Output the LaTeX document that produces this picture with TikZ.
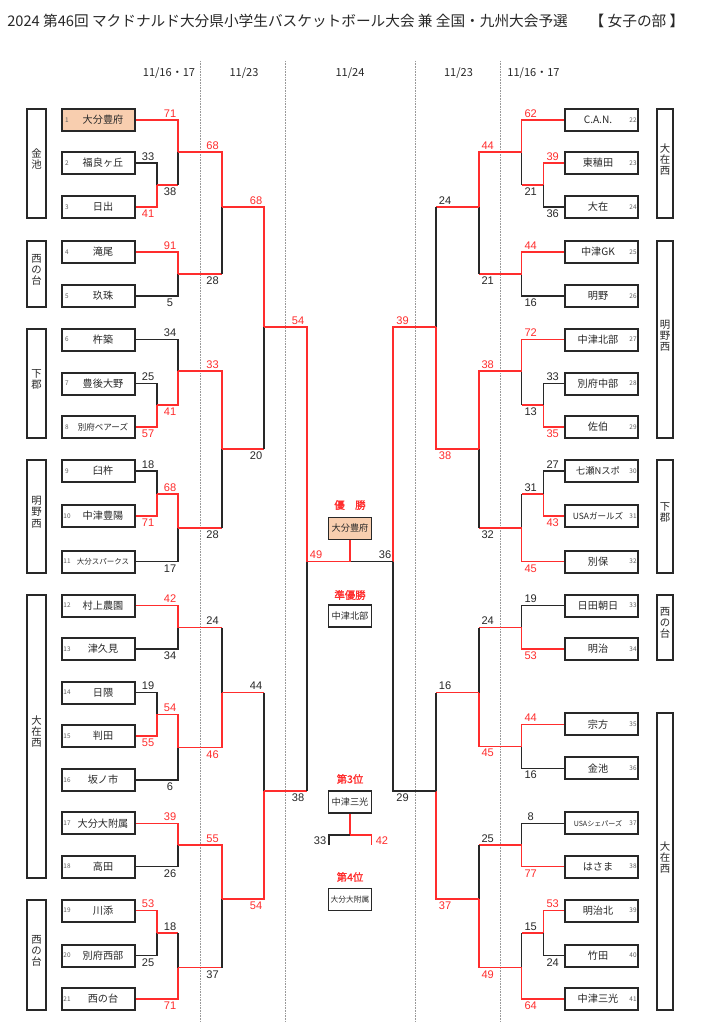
\documentclass[tikz,border=0pt]{standalone}
\usepackage{fontspec}
\setmainfont{Liberation Sans}
\newfontfamily\jp{Noto Sans CJK JP}
\newfontfamily\jpb[FakeBold=1.5]{Noto Sans CJK JP}
\usetikzlibrary{fit,calc}
\definecolor{myred}{RGB}{255,45,45}
\definecolor{ink}{RGB}{40,40,40}
\definecolor{champ}{RGB}{248,206,175}
\newcommand\lteam[5][]{\node[teambox,#1] (t#2) at (98.5,#3) {};\node[tnum] (n#2) at (67,#3) {#2};\node[tname,#4] (m#2) at (103,#3) {#5};}
\newcommand\rteam[5][]{\node[teambox,#1] (t#2) at (601.65,#3) {};\node[tnum] (n#2) at (633,#3) {#2};\node[tname,#4] (m#2) at (598,#3) {#5};}
\newcommand\su[5]{\node[#2,anchor=south] (#1) at (#3,#4-2.5) {#5};}
\newcommand\sd[5]{\node[#2,anchor=north] (#1) at (#3,#4+2.5) {#5};}
\newcommand\jl[2]{\draw[winline] (#1) -- (#1 -| #2); \draw[loseline] (#1 -| #2) -- (#2);}
\begin{document}
\begin{tikzpicture}[x=0.75pt,y=-0.75pt,
 teambox/.style={draw=ink,line width=1.5pt,minimum width=55pt,minimum height=16.5pt,inner sep=0pt},
 tnum/.style={font=\jp\fontsize{4.8}{5}\selectfont,text=ink!75,inner sep=0pt},
 tname/.style={font=\jp\fontsize{7.6}{9}\selectfont,text=ink,inner sep=0pt},
 grp/.style={draw=ink,line width=1.5pt,inner sep=0pt,align=center,font=\jp\fontsize{7.8}{8.3}\selectfont,text=ink},
 winline/.style={draw=myred,line width=1.15pt},
 loseline/.style={draw=ink,line width=1.15pt},
 score/.style={font=\fontsize{8.3}{9}\selectfont,inner sep=0pt},
 rsc/.style={score,text=myred},
 ksc/.style={score,text=ink},
 dotline/.style={draw=gray!80,line width=0.6pt,dash pattern=on 0.6pt off 0.6pt},
 datel/.style={font=\jp\fontsize{8.3}{9}\selectfont,text=ink,inner sep=0pt},
 redlab/.style={font=\jpb\fontsize{7.8}{9}\selectfont,text=myred,inner sep=0pt},
 cbox/.style={draw=ink,line width=1.2pt,minimum width=32.5pt,minimum height=16.5pt,inner sep=0pt,font=\jp\fontsize{6.9}{8}\selectfont,text=ink}
]
\useasboundingbox (0,0) rectangle (702,1024);
\fill[white] (0,0) rectangle (702,1024);

% title
\node[anchor=west,font=\jp\fontsize{11}{12}\selectfont,text=ink,inner sep=0pt] (title) at (7,21) {2024 第46回 マクドナルド大分県小学生バスケットボール大会 兼 全国・九州大会予選};
\node[font=\jp\fontsize{11}{12}\selectfont,text=ink,inner sep=0pt] (part) at (637,21) {【 女子の部 】};

% dates
\node[datel] (d1) at (169,73) {11/16・17};
\node[datel] (d2) at (244,73) {11/23};
\node[datel] (d3) at (350,73) {11/24};
\node[datel] (d4) at (458.5,73) {11/23};
\node[datel] (d5) at (533.5,73) {11/16・17};

% dotted columns
\draw[dotline] (200.7,61) -- (200.7,1022);
\draw[dotline] (285.7,61) -- (285.7,1022);
\draw[dotline] (415,61) -- (415,1022);
\draw[dotline] (500.7,61) -- (500.7,1022);

% left teams
\lteam[fill=champ]{1}{120}{}{大分豊府}
\lteam{2}{163}{}{福良ヶ丘}
\lteam{3}{207}{}{日出}
\lteam{4}{252}{}{滝尾}
\lteam{5}{296}{}{玖珠}
\lteam{6}{339.5}{}{杵築}
\lteam{7}{383.5}{}{豊後大野}
\lteam{8}{427}{font=\jp\fontsize{6.4}{7}\selectfont}{別府ベアーズ}
\lteam{9}{471}{}{臼杵}
\lteam{10}{516}{}{中津豊陽}
\lteam{11}{561.7}{font=\jp\fontsize{5.6}{7}\selectfont}{大分スパークス}
\lteam{12}{605.5}{}{村上農園}
\lteam{13}{649}{}{津久見}
\lteam{14}{692.7}{}{日隈}
\lteam{15}{736}{}{判田}
\lteam{16}{780}{}{坂ノ市}
\lteam{17}{823.3}{}{大分大附属}
\lteam{18}{866.7}{}{高田}
\lteam{19}{910.7}{}{川添}
\lteam{20}{955.7}{}{別府西部}
\lteam{21}{999}{}{西の台}

% right teams
\rteam{22}{120}{}{C.A.N.}
\rteam{23}{163}{}{東稙田}
\rteam{24}{207}{}{大在}
\rteam{25}{252}{}{中津GK}
\rteam{26}{296}{}{明野}
\rteam{27}{339.5}{}{中津北部}
\rteam{28}{383.5}{}{別府中部}
\rteam{29}{427}{}{佐伯}
\rteam{30}{471}{font=\jp\fontsize{7}{8}\selectfont}{七瀬Nスポ}
\rteam{31}{516}{font=\jp\fontsize{6.4}{7}\selectfont}{USAガールズ}
\rteam{32}{561.7}{}{別保}
\rteam{33}{605.5}{}{日田朝日}
\rteam{34}{649}{}{明治}
\rteam{35}{724.3}{}{宗方}
\rteam{36}{768.3}{}{金池}
\rteam{37}{823.3}{font=\jp\fontsize{5.3}{7}\selectfont}{USAシェパーズ}
\rteam{38}{866.7}{}{はさま}
\rteam{39}{910.7}{}{明治北}
\rteam{40}{955.7}{}{竹田}
\rteam{41}{999}{}{中津三光}

% group boxes left
\node[grp,fit={(27.3,109) (45.7,218)}] (gl1) {金\\池};
\node[grp,fit={(27.3,241) (45.7,307)}] (gl2) {西\\の\\台};
\node[grp,fit={(27.3,328.5) (45.7,438)}] (gl3) {下\\郡};
\node[grp,fit={(27.3,460) (45.7,572.7)}] (gl4) {明\\野\\西};
\node[grp,fit={(27.3,594.5) (45.7,877.7)}] (gl5) {大\\在\\西};
\node[grp,fit={(27.3,899.7) (45.7,1010)}] (gl6) {西\\の\\台};
% group boxes right
\node[grp,fit={(656.7,109) (673.3,218)}] (gr1) {大\\在\\西};
\node[grp,fit={(656.7,241) (673.3,438)}] (gr2) {明\\野\\西};
\node[grp,fit={(656.7,460) (673.3,572.7)}] (gr3) {下\\郡};
\node[grp,fit={(656.7,594.5) (673.3,660)}] (gr4) {西\\の\\台};
\node[grp,fit={(656.7,713.3) (673.3,1010)}] (gr5) {大\\在\\西};

% junctions left
\coordinate (lA) at (157,185);
\coordinate (lB) at (178,152);
\coordinate (lC) at (178,274);
\coordinate (lD) at (222,207);
\coordinate (lE) at (157,405);
\coordinate (lF) at (178,371);
\coordinate (lH) at (157,494);
\coordinate (lI) at (178,528);
\coordinate (lG) at (222,449);
\coordinate (lJ) at (264,327);
\coordinate (lK) at (178,627.5);
\coordinate (lL) at (157,714.3);
\coordinate (lM) at (178,747.5);
\coordinate (lN) at (222,692.7);
\coordinate (lO) at (178,845);
\coordinate (lP) at (157,933.2);
\coordinate (lQ) at (178,967.7);
\coordinate (lR) at (222,899);
\coordinate (lS) at (264,791);
\coordinate (lT) at (307,561.7);
\coordinate (fin) at (350,561.7);
% junctions right
\coordinate (ra) at (543.3,185);
\coordinate (rb) at (521.7,152);
\coordinate (rc) at (521.7,274);
\coordinate (rd) at (479,207);
\coordinate (re) at (543.3,405);
\coordinate (rf) at (521.7,371);
\coordinate (rg) at (543.3,494);
\coordinate (rh) at (521.7,528);
\coordinate (ri) at (479,449);
\coordinate (rj) at (436,327);
\coordinate (rk) at (521.7,627.5);
\coordinate (rl) at (521.7,746.3);
\coordinate (rm) at (479,692.7);
\coordinate (rn) at (521.7,845);
\coordinate (ro) at (543.3,933.2);
\coordinate (rp) at (521.7,967.7);
\coordinate (rq) at (479,899);
\coordinate (rr) at (436,791);
\coordinate (rs) at (393,561.7);

% left bracket
\draw[loseline] (t2.east) -| (lA); \draw[winline] (t3.east) -| (lA);
\draw[winline] (t1.east) -| (lB); \jl{lA}{lB}
\draw[winline] (t4.east) -| (lC); \draw[loseline] (t5.east) -| (lC);
\draw[winline] (lB) -| (lD); \jl{lC}{lD}
\draw[loseline] (t7.east) -| (lE); \draw[winline] (t8.east) -| (lE);
\draw[loseline] (t6.east) -| (lF); \draw[winline] (lE) -| (lF);
\draw[loseline] (t9.east) -| (lH); \draw[winline] (t10.east) -| (lH);
\draw[winline] (lH) -| (lI); \draw[loseline] (t11.east) -| (lI);
\draw[winline] (lF) -| (lG); \jl{lI}{lG}
\draw[winline] (lD) -| (lJ); \jl{lG}{lJ}
\draw[winline] (t12.east) -| (lK); \draw[loseline] (t13.east) -| (lK);
\draw[loseline] (t14.east) -| (lL); \draw[winline] (t15.east) -| (lL);
\draw[winline] (lL) -| (lM); \draw[loseline] (t16.east) -| (lM);
\jl{lK}{lN} \draw[winline] (lM) -| (lN);
\draw[winline] (t17.east) -| (lO); \draw[loseline] (t18.east) -| (lO);
\draw[winline] (t19.east) -| (lP); \draw[loseline] (t20.east) -| (lP);
\jl{lP}{lQ} \draw[winline] (t21.east) -| (lQ);
\draw[winline] (lO) -| (lR); \jl{lQ}{lR}
\jl{lN}{lS} \draw[winline] (lR) -| (lS);
\draw[winline] (lJ) -| (lT); \jl{lS}{lT}
\draw[winline] (lT) -- (fin);

% right bracket
\draw[winline] (t23.west) -| (ra); \draw[loseline] (t24.west) -| (ra);
\draw[winline] (t22.west) -| (rb); \jl{ra}{rb}
\draw[winline] (t25.west) -| (rc); \draw[loseline] (t26.west) -| (rc);
\draw[winline] (rb) -| (rd); \jl{rc}{rd}
\draw[loseline] (t28.west) -| (re); \draw[winline] (t29.west) -| (re);
\draw[winline] (t27.west) -| (rf); \jl{re}{rf}
\draw[loseline] (t30.west) -| (rg); \draw[winline] (t31.west) -| (rg);
\jl{rg}{rh} \draw[winline] (t32.west) -| (rh);
\draw[winline] (rf) -| (ri); \jl{rh}{ri}
\jl{rd}{rj} \draw[winline] (ri) -| (rj);
\draw[loseline] (t33.west) -| (rk); \draw[winline] (t34.west) -| (rk);
\draw[winline] (t35.west) -| (rl); \draw[loseline] (t36.west) -| (rl);
\jl{rk}{rm} \draw[winline] (rl) -| (rm);
\draw[loseline] (t37.west) -| (rn); \draw[winline] (t38.west) -| (rn);
\draw[winline] (t39.west) -| (ro); \draw[loseline] (t40.west) -| (ro);
\jl{ro}{rp} \draw[winline] (t41.west) -| (rp);
\jl{rn}{rq} \draw[winline] (rp) -| (rq);
\jl{rm}{rr} \draw[winline] (rq) -| (rr);
\draw[winline] (rj) -| (rs); \draw[loseline] (rr) -| (rs);
\draw[loseline] (rs) -- (fin);

% centre
\node[redlab] (wlab) at (350,505) {優　勝};
\node[cbox,fill=champ] (champbox) at (350,528.3) {大分豊府};
\draw[winline] (fin) -- (champbox.south);
\node[redlab] (rulab) at (350,595) {準優勝};
\node[cbox] (rubox) at (350,616.2) {中津北部};
\node[redlab] (thlab) at (350,779) {第3位};
\node[cbox] (thbox) at (350,802) {中津三光};
\coordinate (tq) at (350,835);
\coordinate (tql) at (329,845);
\coordinate (tqr) at (371.7,845);
\draw[winline] (thbox.south) -- (tq);
\draw[loseline] (tq) -| (tql);
\draw[winline] (tq) -| (tqr);
\node[ksc,anchor=east] (t3s1) at (326.5,841) {33};
\node[rsc,anchor=west] (t3s2) at (375.5,841) {42};
\node[redlab] (folab) at (350,877) {第4位};
\node[cbox,font=\jp\fontsize{5.8}{7}\selectfont] (fobox) at (350,899.3) {大分大附属};

% left scores
\su{sl1}{rsc}{170}{120}{71}
\su{sl2}{ksc}{148}{163}{33}
\sd{sl3}{rsc}{148}{207}{41}
\sd{sl4}{ksc}{170}{185}{38}
\su{sl5}{rsc}{212.5}{152}{68}
\su{sl6}{rsc}{170}{252}{91}
\sd{sl7}{ksc}{170}{296}{5}
\sd{sl8}{ksc}{212.5}{274}{28}
\su{sl9}{rsc}{256}{207}{68}
\su{sl10}{ksc}{170}{339.5}{34}
\su{sl11}{ksc}{148}{383.5}{25}
\sd{sl12}{rsc}{148}{427}{57}
\sd{sl13}{rsc}{170}{405}{41}
\su{sl14}{rsc}{212.5}{371}{33}
\su{sl15}{ksc}{148}{471}{18}
\sd{sl16}{rsc}{148}{516}{71}
\su{sl17}{rsc}{170}{494}{68}
\sd{sl18}{ksc}{170}{561.7}{17}
\sd{sl19}{ksc}{212.5}{528}{28}
\sd{sl20}{ksc}{256}{449}{20}
\su{sl21}{rsc}{298}{327}{54}
\su{sl22}{rsc}{170}{605.5}{42}
\sd{sl23}{ksc}{170}{649}{34}
\su{sl24}{ksc}{212.5}{627.5}{24}
\su{sl25}{ksc}{148}{692.7}{19}
\sd{sl26}{rsc}{148}{736}{55}
\su{sl27}{rsc}{170}{714.3}{54}
\sd{sl28}{ksc}{170}{780}{6}
\sd{sl29}{rsc}{212.5}{747.5}{46}
\su{sl30}{ksc}{256}{692.7}{44}
\su{sl31}{rsc}{170}{823.3}{39}
\sd{sl32}{ksc}{170}{866.7}{26}
\su{sl33}{rsc}{212.5}{845}{55}
\su{sl34}{rsc}{148}{910.7}{53}
\sd{sl35}{ksc}{148}{955.7}{25}
\su{sl36}{ksc}{170}{933.2}{18}
\sd{sl37}{rsc}{170}{999}{71}
\sd{sl38}{ksc}{212.5}{967.7}{37}
\sd{sl39}{rsc}{256}{899}{54}
\sd{sl40}{ksc}{298}{791}{38}
\su{sl41}{rsc}{316}{561.7}{49}

% right scores
\su{sr1}{rsc}{530.7}{120}{62}
\su{sr2}{rsc}{552.7}{163}{39}
\sd{sr3}{ksc}{552.7}{207}{36}
\sd{sr4}{ksc}{530.7}{185}{21}
\su{sr5}{rsc}{487.7}{152}{44}
\su{sr6}{rsc}{530.7}{252}{44}
\sd{sr7}{ksc}{530.7}{296}{16}
\sd{sr8}{ksc}{487.7}{274}{21}
\su{sr9}{ksc}{445}{207}{24}
\su{sr10}{rsc}{530.7}{339.5}{72}
\su{sr11}{ksc}{552.7}{383.5}{33}
\sd{sr12}{rsc}{552.7}{427}{35}
\sd{sr13}{ksc}{530.7}{405}{13}
\su{sr14}{rsc}{487.7}{371}{38}
\su{sr15}{ksc}{552.7}{471}{27}
\sd{sr16}{rsc}{552.7}{516}{43}
\su{sr17}{ksc}{530.7}{494}{31}
\sd{sr18}{rsc}{530.7}{561.7}{45}
\sd{sr19}{ksc}{487.7}{528}{32}
\sd{sr20}{rsc}{445}{449}{38}
\su{sr21}{rsc}{402.5}{327}{39}
\su{sr22}{ksc}{530.7}{605.5}{19}
\sd{sr23}{rsc}{530.7}{649}{53}
\su{sr24}{ksc}{487.7}{627.5}{24}
\su{sr25}{rsc}{530.7}{724.3}{44}
\sd{sr26}{ksc}{530.7}{768.3}{16}
\sd{sr27}{rsc}{487.7}{746.3}{45}
\su{sr28}{ksc}{445}{692.7}{16}
\su{sr29}{ksc}{530.7}{823.3}{8}
\sd{sr30}{rsc}{530.7}{866.7}{77}
\su{sr31}{ksc}{487.7}{845}{25}
\su{sr32}{rsc}{552.7}{910.7}{53}
\sd{sr33}{ksc}{552.7}{955.7}{24}
\su{sr34}{ksc}{530.7}{933.2}{15}
\sd{sr35}{rsc}{530.7}{999}{64}
\sd{sr36}{rsc}{487.7}{967.7}{49}
\sd{sr37}{rsc}{445}{899}{37}
\sd{sr38}{ksc}{402.5}{791}{29}
\su{sr39}{ksc}{385}{561.7}{36}
\end{tikzpicture}
\end{document}
